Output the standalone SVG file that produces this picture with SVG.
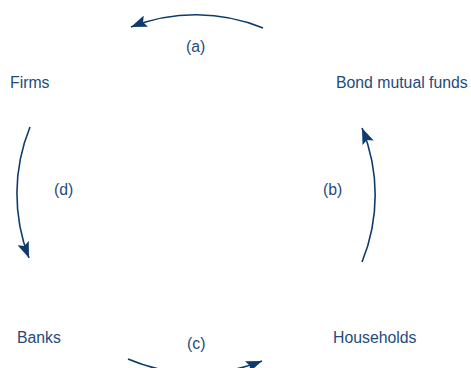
<svg xmlns="http://www.w3.org/2000/svg" width="471" height="368" viewBox="0 0 471 368">
<style>
.lbl{font-family:"Liberation Sans",Arial,sans-serif;font-size:15.8px;fill:#1f4b7a}
.edge{fill:none;stroke:#0e3b6c;stroke-width:1.6}
</style>
<defs>
<marker id="ah" markerUnits="userSpaceOnUse" markerWidth="17" markerHeight="12" viewBox="0 0 17 12" refX="16" refY="6" orient="auto">
<path d="M0,0 L16,6 L0,12 L3,6 Z" fill="#0e3b6c"/>
</marker>
</defs>
<rect width="471" height="368" fill="#fff"/>
<g id="connectors">
<path class="edge" d="M263,28 A177,177 0 0 0 131,27" marker-end="url(#ah)"/>
<path class="edge" d="M30,127 A177,177 0 0 0 29,258" marker-end="url(#ah)"/>
<path class="edge" d="M362,262 A177,177 0 0 0 362,128" marker-end="url(#ah)"/>
<path class="edge" d="M128,359 A177,177 0 0 0 262,361" marker-end="url(#ah)"/>
</g>
<g id="node-firms"><text class="lbl" x="10" y="88">Firms</text></g>
<g id="node-bond"><text class="lbl" x="336" y="88">Bond mutual funds</text></g>
<g id="node-banks"><text class="lbl" x="17" y="343">Banks</text></g>
<g id="node-households"><text class="lbl" x="333" y="343">Households</text></g>
<g id="labels">
<text class="lbl" x="186" y="52">(a)</text>
<text class="lbl" x="323" y="195">(b)</text>
<text class="lbl" x="187" y="349">(c)</text>
<text class="lbl" x="54" y="195">(d)</text>
</g>
</svg>
